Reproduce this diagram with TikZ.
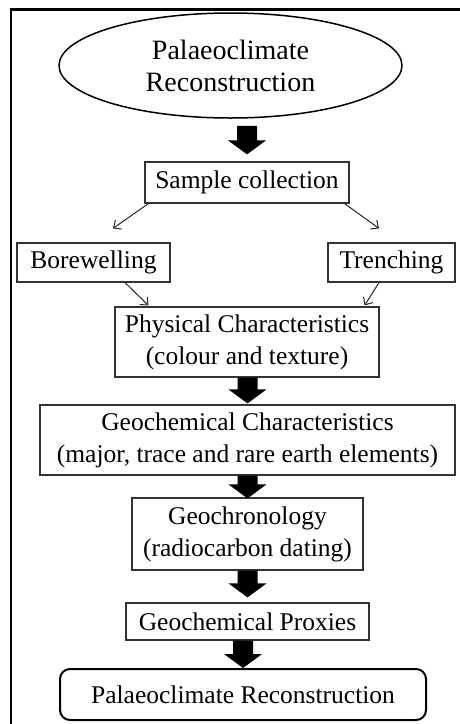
\documentclass[tikz,border=0pt]{standalone}
\usepackage{fontspec}
\setmainfont{Liberation Serif}
\usetikzlibrary{shapes.geometric,arrows.meta,calc}
\newcommand\fatarrow[2]{\fill let \p1=#1, \p2=#2 in (\x2-10pt,\y1) -- (\x2+10pt,\y1) -- (\x2+10pt,\y2+14pt) -- (\x2+19pt,\y2+14pt) -- (\x2,\y2) -- (\x2-19pt,\y2+14pt) -- (\x2-10pt,\y2+14pt) -- cycle;}
\begin{document}
\begin{tikzpicture}[x=1pt,y=-1pt,
  box/.style={draw=black!80,line width=1.2pt,rectangle,inner sep=0pt,align=center,font=\fontsize{25.5}{32}\selectfont},
  thinarrow/.style={draw=black!85,line width=1pt,-{Straight Barb[width=11pt 0,length=6pt 0]}}]
\useasboundingbox (0,0) rectangle (460,724);
\draw[line width=2.3pt] (460,9.5) -- (11.2,9.5) -- (11.2,724);

\node[ellipse,draw,line width=1.5pt,inner sep=0pt,minimum width=343pt,minimum height=105pt,align=center,font=\fontsize{28}{32}\selectfont] (ell) at (230.5,65.5) {Palaeoclimate\\Reconstruction};
\node[box,minimum width=204pt,minimum height=41pt] (samp) at (247,182.5) {Sample collection};
\node[box,minimum width=153pt,minimum height=39pt] (bore) at (93.5,262.5) {Borewelling};
\node[box,minimum width=127pt,minimum height=39pt] (trench) at (391.5,262.5) {Trenching};
\node[box,minimum width=264pt,minimum height=70pt] (phys) at (247,342) {Physical Characteristics\\(colour and texture)};
\node[box,minimum width=415pt,minimum height=70pt] (geo) at (247.5,440) {Geochemical Characteristics\\(major, trace and rare earth elements)};
\node[box,minimum width=231pt,minimum height=72pt] (chron) at (247.5,534) {Geochronology\\(radiocarbon dating)};
\node[box,minimum width=243pt,minimum height=37pt] (prox) at (247.5,621.5) {Geochemical Proxies};
\node[box,draw=black,line width=2pt,rounded corners=10pt,minimum width=366pt,minimum height=51pt] (final) at (243,694.5) {Palaeoclimate Reconstruction};

\fatarrow{($(ell.south -| samp.north)+(0,7)$)}{($(samp.north)+(0,-7)$)}
\fatarrow{(phys.south)}{($(geo.north)+(0,-1)$)}
\fatarrow{(geo.south)}{($(chron.north)+(0,1)$)}
\fatarrow{(chron.south)}{($(prox.north)+(0,-5)$)}
\fatarrow{(prox.south)}{(final.north)}

\draw[thinarrow] ($(samp.south west)+(4,0)$) -- ($(bore.north)+(19.5,-14)$);
\draw[thinarrow] ($(samp.south east)+(-5,0)$) -- ($(trench.north)+(-12.5,-14)$);
\draw[thinarrow] ($(bore.south)+(31.5,0)$) -- ($(phys.north west)+(34,-1)$);
\draw[thinarrow] ($(trench.south)+(-12.5,0)$) -- ($(phys.north east)+(-15,-1)$);
\end{tikzpicture}
\end{document}
